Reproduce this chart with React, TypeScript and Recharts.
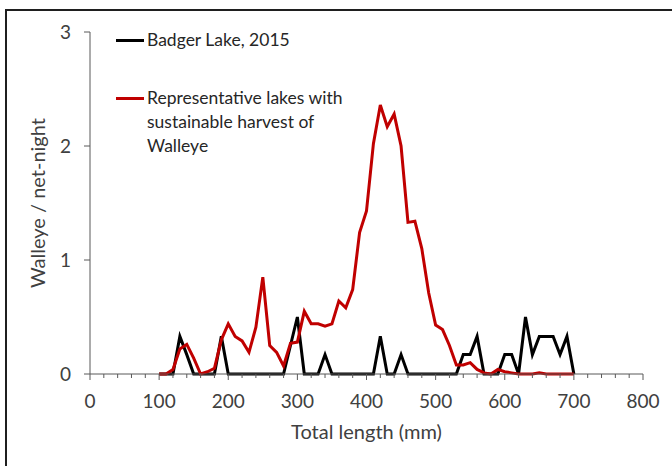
import React from 'react';
import { LineChart, Line, XAxis, YAxis, Legend } from 'recharts';

const lengths = [
  100, 110, 120, 130, 140, 150, 160, 170, 180, 190,
  200, 210, 220, 230, 240, 250, 260, 270, 280, 290,
  300, 310, 320, 330, 340, 350, 360, 370, 380, 390,
  400, 410, 420, 430, 440, 450, 460, 470, 480, 490,
  500, 510, 520, 530, 540, 550, 560, 570, 580, 590,
  600, 610, 620, 630, 640, 650, 660, 670, 680, 690,
  700,
];

const badger = [
  0, 0, 0, 0.33, 0.17, 0, 0, 0, 0, 0.33,
  0, 0, 0, 0, 0, 0, 0, 0, 0, 0.25,
  0.5, 0, 0, 0, 0.17, 0, 0, 0, 0, 0,
  0, 0, 0.33, 0, 0, 0.17, 0, 0, 0, 0,
  0, 0, 0, 0, 0.17, 0.17, 0.33, 0, 0, 0,
  0.17, 0.17, 0, 0.5, 0.17, 0.33, 0.33, 0.33, 0.17, 0.33,
  0,
];

const representative = [
  0, 0, 0.04, 0.22, 0.26, 0.14, 0, 0.02, 0.05, 0.3,
  0.44, 0.33, 0.29, 0.19, 0.41, 0.85, 0.25, 0.19, 0.07, 0.27,
  0.28, 0.55, 0.44, 0.44, 0.42, 0.44, 0.64, 0.58, 0.74, 1.24,
  1.43, 2.02, 2.36, 2.17, 2.28, 2.0, 1.33, 1.34, 1.1, 0.71,
  0.43, 0.39, 0.25, 0.08, 0.08, 0.1, 0.04, 0.01, 0, 0.04,
  0.02, 0.01, 0, 0, 0, 0.01, 0, 0, 0, 0,
  0,
];

const xTicks = [
  0, 20, 40, 60, 80, 100, 120, 140, 160, 180, 200, 220, 240, 260, 280, 300,
  320, 340, 360, 380, 400, 420, 440, 460, 480, 500, 520, 540, 560, 580, 600,
  620, 640, 660, 680, 700, 720, 740, 760, 780, 800,
];
const xLabelTicks = [0, 100, 200, 300, 400, 500, 600, 700, 800];
const yTicks = [0, 1, 2, 3];

const seriesNames = {
  badger: 'Badger Lake, 2015',
  representative: 'Representative lakes with sustainable harvest of Walleye',
};

const data = lengths.map((length, i) => ({
  length,
  badger: badger[i],
  representative: representative[i],
}));

const FONT = 'Lato, Carlito, Calibri, "Open Sans", sans-serif';
const TEXT = '#404040';
const AXIS = '#595959';

const XTick = (props: any) => {
  const { x, y, payload } = props;
  const v = payload.value;
  const major = xLabelTicks.includes(v);
  return (
    <g>
      <line x1={x} x2={x} y1={y} y2={y + (major ? 6 : 4)} stroke={AXIS} strokeWidth={1} />
      {major && (
        <text x={x} y={y + 34} textAnchor="middle" fill={TEXT} fontSize={19} fontFamily={FONT}>
          {v}
        </text>
      )}
    </g>
  );
};

const renderLegend = (props: any) => {
  const payload = props.payload || [];
  return (
    <div style={{ fontFamily: FONT, fontSize: 17.5, color: '#262626', lineHeight: '24px' }}>
      {payload.map((entry: any, i: number) => (
        <div
          key={i}
          style={{ display: 'flex', alignItems: 'flex-start', marginTop: i === 0 ? 0 : 34 }}
        >
          <div
            style={{
              width: 28,
              height: 3,
              background: entry.color,
              marginTop: 10.5,
              marginRight: 3,
              flex: 'none',
            }}
          />
          <div style={{ width: 215 }}>{entry.value}</div>
        </div>
      ))}
    </div>
  );
};

export default function App() {
  return (
    <div
      style={{
        position: 'absolute',
        left: 0,
        top: 0,
        width: 672,
        height: 466,
        overflow: 'hidden',
        background: '#fff',
      }}
    >
      <div
        style={{
          position: 'absolute',
          left: 5,
          top: 9,
          width: 720,
          height: 520,
          borderLeft: '2px solid #1f1f1f',
          borderTop: '2px solid #1f1f1f',
        }}
      />
      <LineChart
        width={672}
        height={466}
        data={data}
        margin={{ top: 32, right: 29, bottom: 0, left: 0 }}
        style={{ position: 'absolute', left: 0, top: 0 }}
      >
        <XAxis
          type="number"
          dataKey="length"
          domain={[0, 800]}
          ticks={xTicks}
          interval={0}
          height={92}
          tickSize={0}
          tickMargin={0}
          tickLine={false}
          tick={<XTick />}
          axisLine={{ stroke: AXIS, strokeWidth: 1 }}
          label={{
            value: 'Total length (mm)',
            position: 'center',
            dy: 12,
            fill: TEXT,
            fontSize: 20,
            fontFamily: FONT,
          }}
        />
        <YAxis
          type="number"
          domain={[0, 3]}
          ticks={yTicks}
          interval={0}
          width={90}
          tickSize={6}
          tickMargin={13}
          tickLine={{ stroke: AXIS }}
          axisLine={{ stroke: AXIS, strokeWidth: 1 }}
          tick={{ fill: TEXT, fontSize: 19, fontFamily: FONT }}
          label={{
            value: 'Walleye / net-night',
            angle: -90,
            position: 'center',
            dx: -7,
            fill: TEXT,
            fontSize: 20,
            fontFamily: FONT,
          }}
        />
        <Legend
          layout="vertical"
          align="center"
          verticalAlign="middle"
          content={renderLegend}
          wrapperStyle={{ left: 116, top: 28, width: 270, height: 140 }}
        />
        <Line
          type="linear"
          dataKey="badger"
          name={seriesNames.badger}
          stroke="#000000"
          strokeWidth={3}
          dot={false}
          activeDot={false}
          isAnimationActive={false}
        />
        <Line
          type="linear"
          dataKey="representative"
          name={seriesNames.representative}
          stroke="#C00000"
          strokeWidth={3}
          dot={false}
          activeDot={false}
          isAnimationActive={false}
        />
      </LineChart>
    </div>
  );
}
